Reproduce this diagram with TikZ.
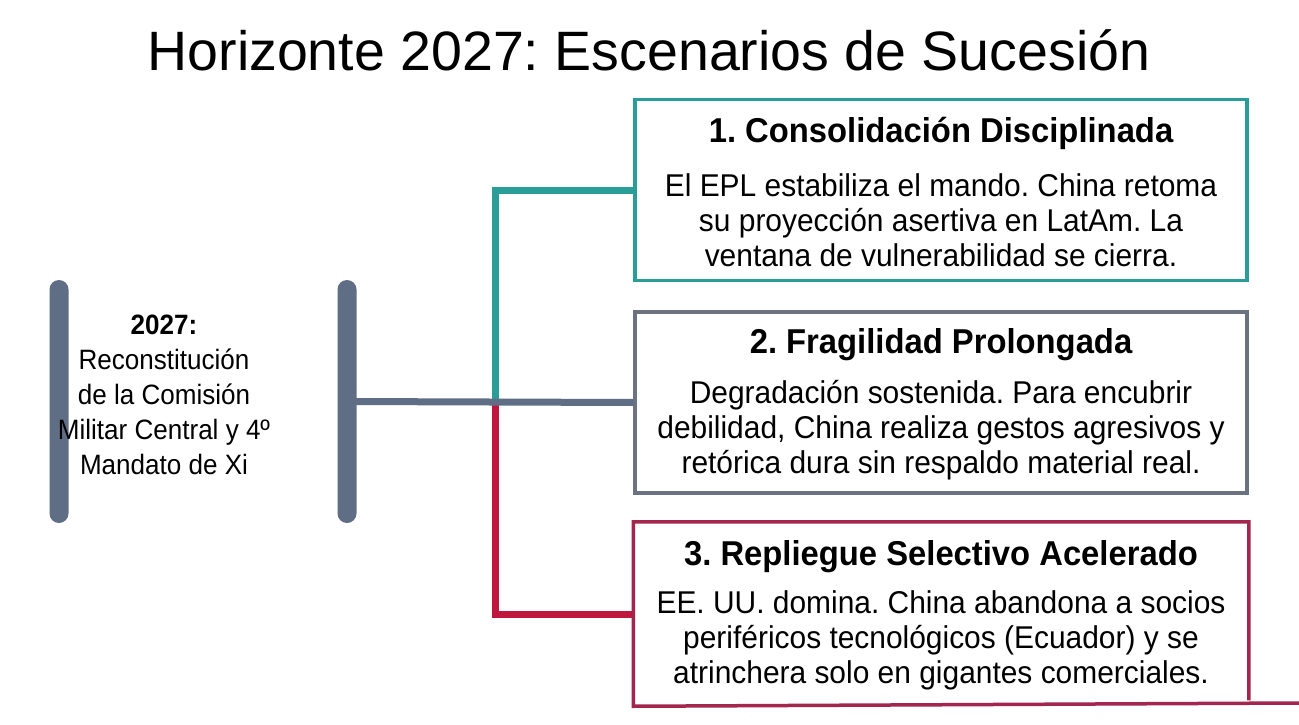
\documentclass[tikz,border=0pt]{standalone}
\usepackage{fontspec}
\setmainfont{Liberation Sans}
\newfontfamily\condfont[FakeStretch=0.93]{Liberation Sans}
\newfontfamily\bodyfont[FakeStretch=0.95]{Liberation Sans}
\usetikzlibrary{calc}
\definecolor{slate}{HTML}{5F6E85}
\definecolor{tealc}{HTML}{2A9D98}
\definecolor{grayb}{HTML}{6B7280}
\definecolor{crim}{HTML}{C0173F}
\definecolor{crimb}{HTML}{A3264F}
\tikzset{
  x=1pt, y=-1pt,
  bar/.style={fill=slate, rectangle, rounded corners=9.5pt, minimum width=19pt, minimum height=243pt, inner sep=0pt},
  scenbox/.style={rectangle, line width=3.5pt, minimum width=612pt, minimum height=181pt, inner sep=0pt, fill=white},
  boxtitle/.style={font=\bodyfont\fontsize{34.5}{35}\selectfont\bfseries, inner sep=0pt},
  boxbody/.style={font=\bodyfont\fontsize{31.5}{35}\selectfont, align=center, inner sep=0pt},
  conn/.style={line width=7pt},
}
\begin{document}
\frenchspacing
\begin{tikzpicture}
\useasboundingbox (0,0) rectangle (1299,725);
\fill[white] (0,0) rectangle (1299,725);
% title
\node[font=\fontsize{55.5}{60}\selectfont, inner sep=0pt] (title) at (649,50) {Horizonte 2027: Escenarios de Sucesión};
% bars
\node[bar] (barL) at (59,401.5) {};
\node[bar] (barR) at (347,401.5) {};
\node[font=\condfont\fontsize{28}{35}\selectfont, align=center, inner sep=0pt] (center) at (164,395)
  {\textbf{2027:}\\Reconstitución\\de la Comisión\\Militar Central y 4º\\Mandato de Xi};
% boxes
\node[scenbox, draw=tealc] (b1) at (941,190) {};
\node[scenbox, draw=grayb] (b2) at (941,402.5) {};
\node[scenbox] (b3) at (941,614) {};
\coordinate (edge) at (1299,703);
% connectors
\coordinate (j) at (495,402);
\draw[conn, tealc] (j) |- (b1.west);
\draw[conn, crim] (j) |- (b3.west);
\draw[conn, slate] (barR.center) -- (b2.west);
% box 3 outline
\draw[line width=3.5pt, crimb] ($(b3.south east)+(0,-6)$) -- (b3.north east) -- (b3.north west) -- (b3.south west) -- (edge);
% texts
\node[boxtitle] (t1) at (941,133) {1. Consolidación Disciplinada};
\node[boxbody] (d1) at (941,220) {El EPL estabiliza el mando. China retoma\\su proyección asertiva en LatAm. La\\ventana de vulnerabilidad se cierra.};
\node[boxtitle] (t2) at (941,345) {2. Fragilidad Prolongada};
\node[boxbody] (d2) at (941,430) {Degradación sostenida. Para encubrir\\debilidad, China realiza gestos agresivos y\\retórica dura sin respaldo material real.};
\node[boxtitle] (t3) at (941,557) {3. Repliegue Selectivo Acelerado};
\node[boxbody] (d3) at (941,640) {EE. UU. domina. China abandona a socios\\periféricos tecnológicos (Ecuador) y se\\atrinchera solo en gigantes comerciales.};
\end{tikzpicture}
\end{document}
